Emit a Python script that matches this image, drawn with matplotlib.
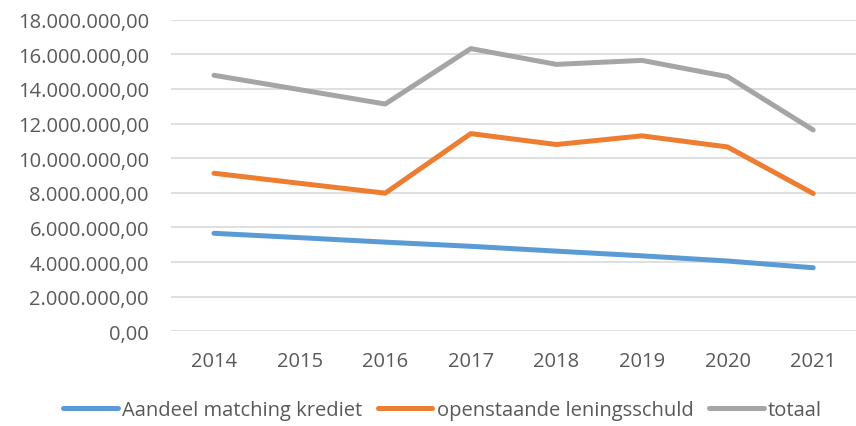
import matplotlib
matplotlib.use('Agg')
import matplotlib.pyplot as plt
from matplotlib.ticker import FuncFormatter, MultipleLocator

jaren = [2014, 2015, 2016, 2017, 2018, 2019, 2020, 2021]
matching = [5660000, 5410000, 5150000, 4910000, 4630000, 4360000, 4060000, 3670000]
lening = [9130000, 8550000, 7980000, 11420000, 10790000, 11290000, 10650000, 7960000]
totaal = [14790000, 13960000, 13130000, 16330000, 15420000, 15650000, 14710000, 11630000]

plt.rcParams['font.family'] = ['Open Sans', 'DejaVu Sans']

def nl_format(v, pos):
    s = f"{v:,.2f}"
    return s.replace(',', 'X').replace('.', ',').replace('X', '.')

fig = plt.figure(figsize=(8.56, 4.27), dpi=100)
ax = fig.add_axes([0.2, 0.2218, 0.8, 0.7297])

ax.plot(jaren, matching, color='#5B9BD5', lw=3.6, solid_capstyle='round', label='Aandeel matching krediet')
ax.plot(jaren, lening, color='#ED7D31', lw=3.6, solid_capstyle='round', label='openstaande leningsschuld')
ax.plot(jaren, totaal, color='#A5A5A5', lw=3.6, solid_capstyle='round', label='totaal')

ax.set_xlim(2013.5, 2021.5)
ax.set_ylim(0, 18000000)
ax.yaxis.set_major_locator(MultipleLocator(2000000))
ax.yaxis.set_major_formatter(FuncFormatter(nl_format))
ax.set_xticks(jaren)
ax.grid(axis='y', color='#D9D9D9', lw=1.2)
ax.set_axisbelow(True)
for s in ax.spines.values():
    s.set_visible(False)
ax.tick_params(length=0, labelsize=14.5, labelcolor='#595959')
ax.tick_params(axis='y', pad=16)
ax.tick_params(axis='x', pad=14)

fig.legend(loc='center', bbox_to_anchor=(0.517, 0.038), ncol=3, frameon=False,
           fontsize=14.5, handlelength=2.7, handletextpad=0.2, columnspacing=0.8,
           labelcolor='#595959')

fig.savefig('out.png', dpi=100)
